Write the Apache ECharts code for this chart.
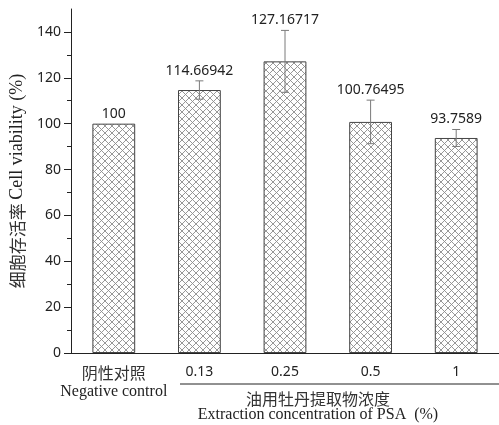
<!DOCTYPE html>
<html>
<head>
<meta charset="utf-8">
<script src="https://cdn.jsdelivr.net/npm/echarts@6/dist/echarts.min.js"></script>
<style>
html, body { margin: 0; padding: 0; background: #fff; }
#main { width: 499px; height: 425px; }
</style>
</head>
<body>
<div id="main"></div>
<script>
// data
var categories = ['阴性对照', '0.13', '0.25', '0.5', '1'];
var viability = [100, 114.66942, 127.16717, 100.76495, 93.7589];
var errors = [0, 4, 13.5, 9.5, 3.7];
var majorTicks = [0, 20, 40, 60, 80, 100, 120, 140];
var minorTicks = [10, 30, 50, 70, 90, 110, 130];

var CN = '"Noto Sans CJK SC"';
var SERIF = '"Liberation Serif", "DejaVu Serif", serif';
var SANS = '"Noto Sans", sans-serif';

// cross hatch fill for the bars
function hatch() {
    var s = 7;
    var c = document.createElement('canvas');
    c.width = s; c.height = s;
    var ctx = c.getContext('2d');
    ctx.fillStyle = '#fff';
    ctx.fillRect(0, 0, s, s);
    ctx.strokeStyle = '#8c8c8c';
    ctx.lineWidth = 0.9;
    ctx.beginPath();
    ctx.moveTo(-1, -1); ctx.lineTo(s + 1, s + 1);
    ctx.moveTo(s + 1, -1); ctx.lineTo(-1, s + 1);
    ctx.stroke();
    return c;
}

var chart = echarts.init(document.getElementById('main'));

var option = {
    animation: false,
    backgroundColor: '#fff',
    grid: { left: 71, right: 0, top: 9, bottom: 72 },
    xAxis: [{
        type: 'category',
        data: categories,
        position: 'bottom',
        axisLine: { lineStyle: { color: '#222', width: 1 } },
        axisTick: { alignWithLabel: true, length: 6, lineStyle: { color: '#222' } },
        axisLabel: {
            margin: 10,
            interval: 0,
            formatter: function (v, i) {
                if (i === 0) return '{cn|阴性对照}\n{en|Negative control}';
                return '{num|' + v + '}';
            },
            rich: {
                cn: { fontFamily: CN, fontSize: 16, color: '#333', lineHeight: 19 },
                en: { fontFamily: SERIF, fontSize: 16, color: '#222', lineHeight: 19 },
                num: { fontFamily: SANS, fontSize: 14, color: '#222', lineHeight: 19 }
            }
        }
    }, {
        type: 'category',
        data: categories,
        position: 'bottom',
        axisLine: { show: false },
        axisTick: { alignWithLabel: false, length: 3, lineStyle: { color: '#222' } },
        axisLabel: { show: false }
    }],
    yAxis: [{
        type: 'value',
        min: 0,
        max: 150,
        interval: 10,
        position: 'left',
        splitLine: { show: false },
        axisLine: { show: true, lineStyle: { color: '#222', width: 1 } },
        axisTick: { show: true, length: 7, customValues: majorTicks, lineStyle: { color: '#222' } },
        axisLabel: {
            customValues: majorTicks,
            margin: 10,
            fontFamily: SANS,
            fontSize: 14,
            color: '#222'
        },
        name: '{cn|细胞存活率} {en|Cell viability (%)}',
        nameLocation: 'middle',
        nameRotate: 90,
        nameGap: 42,
        nameTextStyle: {
            rich: {
                cn: { fontFamily: CN, fontSize: 17, color: '#333' },
                en: { fontFamily: SERIF, fontSize: 18, color: '#222' }
            }
        }
    }, {
        type: 'value',
        min: 0,
        max: 150,
        interval: 10,
        position: 'left',
        splitLine: { show: false },
        axisLine: { show: false },
        axisTick: { show: true, length: 4, customValues: minorTicks, lineStyle: { color: '#222' } },
        axisLabel: { show: false }
    }],
    series: [{
        type: 'bar',
        data: viability,
        barWidth: '50%',
        itemStyle: {
            color: { image: hatch(), repeat: 'repeat' },
            borderColor: '#444',
            borderWidth: 1
        }
    }, {
        type: 'custom',
        z: 5,
        data: viability.map(function (v, i) { return [i, v, errors[i]]; }),
        renderItem: function (params, api) {
            var idx = api.value(0);
            var v = api.value(1);
            var e = api.value(2);
            var x = api.coord([idx, v])[0];
            var top = api.coord([idx, v + e])[1];
            var bot = api.coord([idx, v - e])[1];
            var st = { stroke: '#7a7a7a', lineWidth: 1 };
            var kids = [];
            if (e > 0) {
                kids.push({ type: 'line', shape: { x1: x, y1: top, x2: x, y2: bot }, style: st });
                kids.push({ type: 'line', shape: { x1: x - 4, y1: top, x2: x + 4, y2: top }, style: st });
                kids.push({ type: 'line', shape: { x1: x - 4, y1: bot, x2: x + 4, y2: bot }, style: st });
            }
            kids.push({
                type: 'text',
                x: x,
                y: top - 3,
                style: {
                    text: String(viability[params.dataIndex]),
                    align: 'center',
                    verticalAlign: 'bottom',
                    fontFamily: SANS,
                    fontSize: 14,
                    fill: '#222'
                }
            });
            return { type: 'group', children: kids };
        }
    }],
    graphic: [{
        type: 'line',
        shape: { x1: 180, y1: 384, x2: 499, y2: 384 },
        style: { stroke: '#222', lineWidth: 1 }
    }, {
        type: 'text',
        x: 318, y: 399,
        style: { text: '油用牡丹提取物浓度', align: 'center', verticalAlign: 'middle', fontFamily: CN, fontSize: 16, fill: '#333' }
    }, {
        type: 'text',
        x: 318, y: 415,
        style: { text: 'Extraction concentration of PSA  (%)', align: 'center', verticalAlign: 'middle', fontFamily: SERIF, fontSize: 16, fill: '#222' }
    }]
};

chart.setOption(option);
</script>
</body>
</html>
